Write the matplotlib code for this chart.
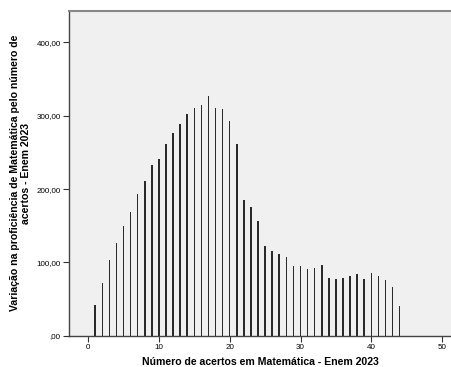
import matplotlib.pyplot as plt

plt.rcParams['font.family'] = ['Liberation Sans', 'DejaVu Sans']

acertos = list(range(1, 45))
variacao = [42, 72, 103, 127, 150, 169, 193, 211, 233, 241,
            261, 277, 289, 302, 310, 315, 327, 310, 309, 293,
            261, 185, 176, 156, 122, 115, 111, 107, 95, 94.5,
            91, 93, 97, 79, 78, 79, 82, 84, 77, 86,
            82, 76, 67, 41]

y_ticks = [0, 100, 200, 300, 400]
y_tick_labels = [',00', '100,00', '200,00', '300,00', '400,00']
x_ticks = [0, 10, 20, 30, 40, 50]

fig = plt.figure(figsize=(4.52, 3.67), dpi=100)
ax = fig.add_axes([0.1527, 0.0853, 0.8473, 0.885])
ax.set_facecolor('#f0f0f0')

ax.bar(acertos, variacao, width=0.22, color='#2a2a2a', linewidth=0)

ax.set_xlim(-2.7, 51.4)
ax.set_ylim(0, 443)
ax.set_xticks(x_ticks)
ax.set_xticklabels([str(t) for t in x_ticks])
ax.set_yticks(y_ticks)
ax.set_yticklabels(y_tick_labels)
ax.tick_params(axis='both', labelsize=5.8, length=4.5, width=0.8, color='#333333', pad=1.5)

for side in ['left', 'bottom']:
    ax.spines[side].set_color('#444444')
    ax.spines[side].set_linewidth(1)
ax.spines['top'].set_color('#888888')
ax.spines['top'].set_linewidth(1.5)
ax.spines['right'].set_visible(False)

ax.set_xlabel('Número de acertos em Matemática - Enem 2023', fontsize=7.6, fontweight='bold', labelpad=4.5)
ax.set_ylabel('Variação na proficiência de Matemática pelo número de\nacertos - Enem 2023',
              fontsize=7.6, fontweight='bold', labelpad=4, linespacing=1.05)

fig.savefig('out.png', dpi=100)
